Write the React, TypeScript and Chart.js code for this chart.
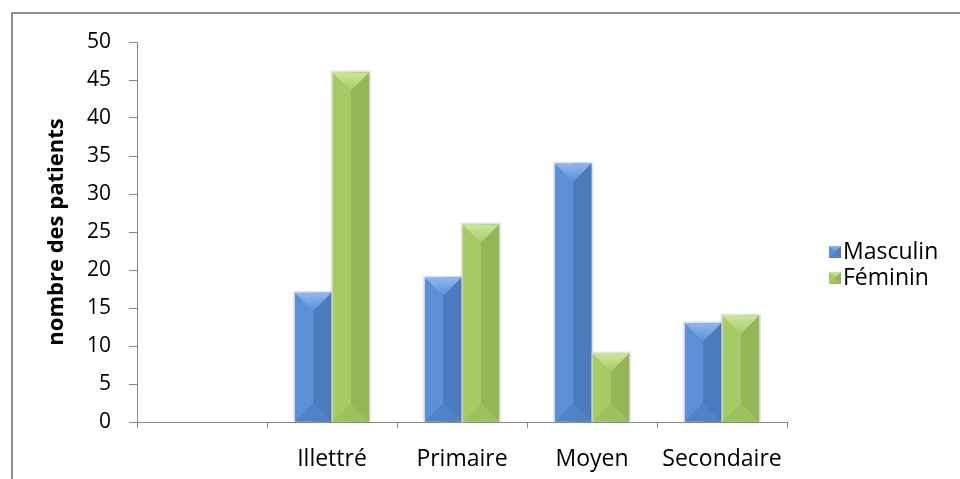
import React, { useEffect, useRef } from "react";
import { Chart, registerables } from "chart.js";

Chart.register(...registerables);

const categories = ["", "Illettré", "Primaire", "Moyen", "Secondaire"];
const masculin = [null, 17, 19, 34, 13];
const feminin = [null, 46, 26, 9, 14];
const seriesNames = ["Masculin", "Féminin"];
const yTitle = "nombre des patients";

const FONT = "'Open Sans', 'Liberation Sans', sans-serif";

type Shade = { left: string; right: string; top: string; bottom: string };
const shades: Shade[] = [
  { left: "#5b8fd6", right: "#4a7cbd", top: "#8fb8ef", bottom: "#4f83c8" },
  { left: "#a6ca66", right: "#94b656", top: "#cbe79a", bottom: "#9dc15d" },
];

function drawBevel(ctx: CanvasRenderingContext2D, L: number, T: number, R: number, B: number, s: Shade, outline: boolean) {
  const w = R - L;
  const h = B - T;
  if (w <= 0 || h <= 0) return;
  const C = (L + R) / 2;
  const d = Math.min(w / 2, h / 2);
  ctx.save();
  if (outline) {
    ctx.fillStyle = "rgba(0,0,0,0.10)";
    ctx.fillRect(L - 2, T - 2, w + 4, h + 2);
    ctx.fillStyle = "#e4e4e4";
    ctx.fillRect(L - 1, T - 1, w + 2, h + 1);
  }
  ctx.fillStyle = s.left;
  ctx.fillRect(L, T, w, h);
  ctx.fillStyle = s.right;
  ctx.fillRect(C, T, R - C, h);
  ctx.fillStyle = s.bottom;
  ctx.beginPath();
  ctx.moveTo(L, B);
  ctx.lineTo(R, B);
  ctx.lineTo(C, B - d);
  ctx.closePath();
  ctx.fill();
  const g = ctx.createLinearGradient(0, T, 0, T + d);
  g.addColorStop(0, s.top);
  g.addColorStop(1, s.left);
  ctx.fillStyle = g;
  ctx.beginPath();
  ctx.moveTo(L, T);
  ctx.lineTo(R, T);
  ctx.lineTo(C, T + d);
  ctx.closePath();
  ctx.fill();
  ctx.restore();
}

const bevelPlugin = {
  id: "bevel",
  afterDatasetsDraw(chart: any) {
    const ctx = chart.ctx;
    chart.data.datasets.forEach((_ds: any, i: number) => {
      const meta = chart.getDatasetMeta(i);
      meta.data.forEach((bar: any) => {
        const p = bar.getProps(["x", "y", "base", "width"], true);
        if (p.y == null || isNaN(p.y)) return;
        drawBevel(ctx, p.x - p.width / 2, Math.min(p.y, p.base), p.x + p.width / 2, Math.max(p.y, p.base), shades[i], true);
      });
    });
  },
};

const legendPlugin = {
  id: "sideLegend",
  afterDraw(chart: any) {
    const ctx = chart.ctx;
    const area = chart.chartArea;
    const x0 = area.right + 42;
    const yStart = area.top + 210;
    ctx.save();
    ctx.font = `23px ${FONT}`;
    ctx.textBaseline = "middle";
    ctx.fillStyle = "#000";
    chart.data.datasets.forEach((ds: any, i: number) => {
      const yc = yStart + i * 26;
      drawBevel(ctx, x0, yc - 6, x0 + 12, yc + 6, shades[i], false);
      ctx.fillText(ds.label, x0 + 14, yc);
    });
    ctx.restore();
  },
};

export default function App() {
  const ref = useRef<HTMLCanvasElement | null>(null);
  useEffect(() => {
    if (!ref.current) return;
    const chart = new Chart(ref.current, {
      type: "bar",
      data: {
        labels: categories,
        datasets: [
          { label: seriesNames[0], data: masculin as any, backgroundColor: shades[0].left, borderWidth: 0 },
          { label: seriesNames[1], data: feminin as any, backgroundColor: shades[1].left, borderWidth: 0 },
        ],
      },
      options: {
        animation: false,
        responsive: false,
        layout: { padding: { top: 42, right: 173, left: 0, bottom: 0 } },
        datasets: { bar: { categoryPercentage: 0.58, barPercentage: 0.97 } },
        plugins: { legend: { display: false }, tooltip: { enabled: false } },
        scales: {
          x: {
            grid: { drawOnChartArea: false, tickLength: 6, color: "#868686", offset: true },
            border: { color: "#868686" },
            ticks: { font: { family: FONT, size: 23 }, color: "#000", padding: 18, maxRotation: 0 },
            afterFit: (s: any) => { s.height = 57; },
          },
          y: {
            min: 0,
            max: 50,
            grid: { drawOnChartArea: false, tickLength: 8, color: "#868686" },
            border: { color: "#868686" },
            ticks: { stepSize: 5, font: { family: FONT, size: 21 }, color: "#000", padding: 18 },
            title: { display: true, text: yTitle, font: { family: FONT, size: 22, weight: "bold" }, color: "#000", padding: { top: 44, bottom: 0 } },
            afterFit: (s: any) => { s.width = 137; },
          },
        },
      },
      plugins: [bevelPlugin, legendPlugin],
    });
    return () => chart.destroy();
  }, []);
  return (
    <div style={{ position: "fixed", left: 0, top: 0, width: 960, height: 479, background: "#fff", overflow: "hidden" }}>
      <div style={{ position: "absolute", left: 11, top: 12, width: 970, height: 480, borderLeft: "2px solid #8e8e8e", borderTop: "2px solid #8e8e8e" }} />
      <canvas ref={ref} width={960} height={479} style={{ position: "absolute", left: 0, top: 0, width: 960, height: 479 }} />
    </div>
  );
}
